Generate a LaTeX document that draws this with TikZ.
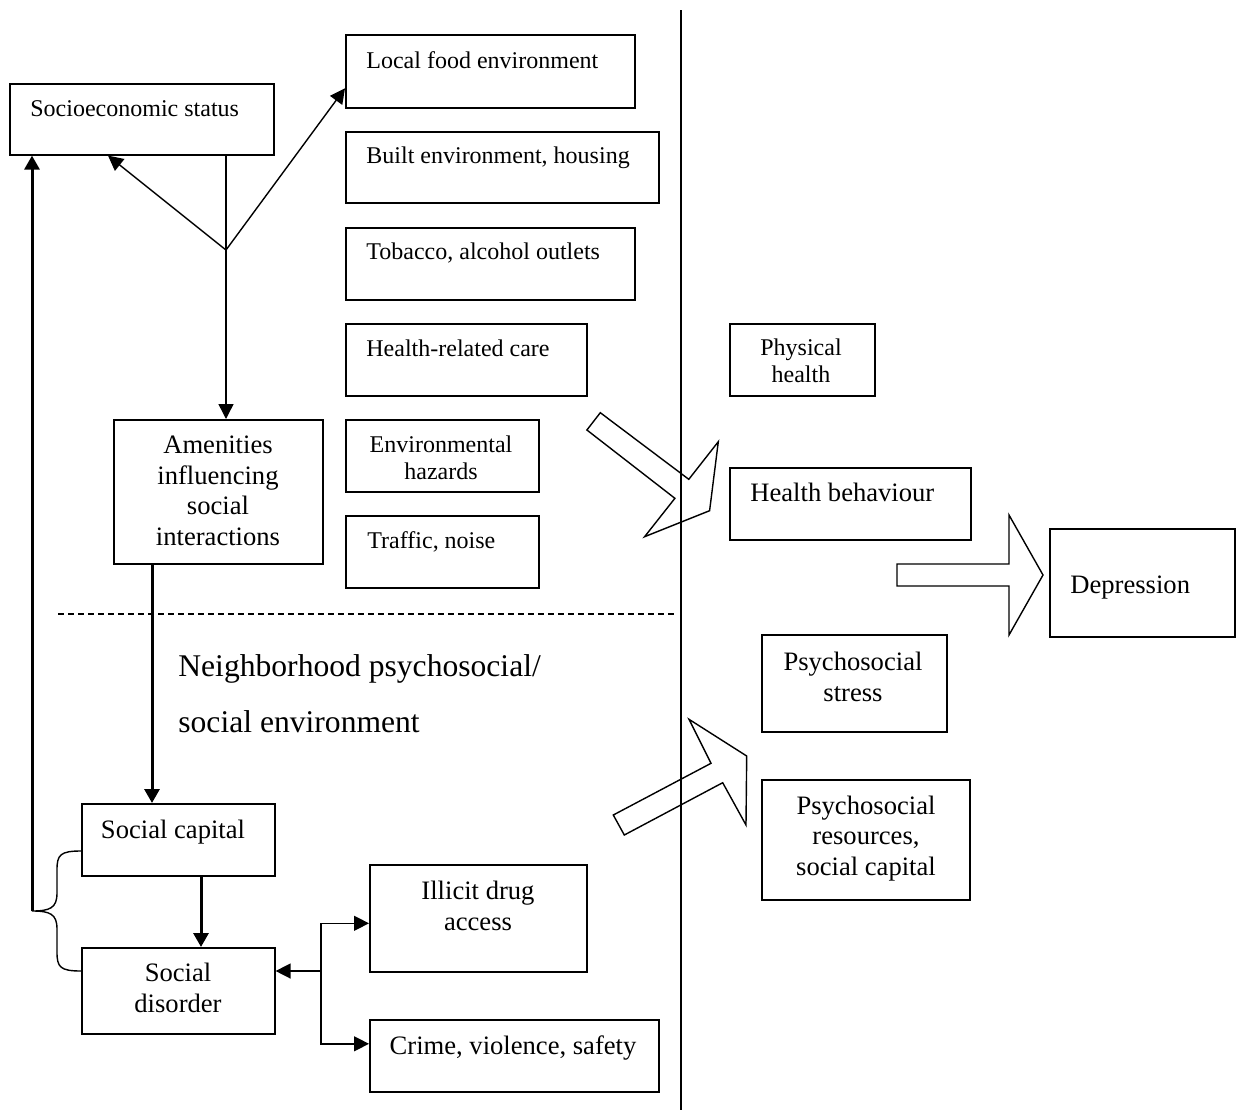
\documentclass[tikz,border=0pt]{standalone}
\usepackage{fontspec}
\setmainfont{Liberation Serif}
\usetikzlibrary{arrows.meta,calc}

\tikzset{
    box/.style={draw,line width=0.8pt,anchor=north west,inner sep=0pt},
    small/.style={font=\fontsize{12}{13.4}\selectfont,inner sep=0pt,align=center},
    large/.style={font=\fontsize{13.3}{15.2}\selectfont,inner sep=0pt,align=center},
    link/.style={line width=0.7pt,-{Triangle[length=7.5pt,width=7.5pt]}},
    thicklink/.style={line width=1.5pt,-{Triangle[length=7pt,width=7.5pt]}},
    block/.style={line width=0.7pt,line join=miter}
}

\begin{document}
\begin{tikzpicture}[x=0.5pt,y=-0.5pt]
    \useasboundingbox (0,0) rectangle (1239,1110);

    \node[box,minimum width=132pt,minimum height=35.5pt] (ses) at (9,83) {};
    \node[box,minimum width=144.5pt,minimum height=36.5pt] (food) at (345,34) {};
    \node[box,minimum width=156.5pt,minimum height=35.5pt] (built) at (345,131) {};
    \node[box,minimum width=144.5pt,minimum height=36pt] (tob) at (345,227) {};
    \node[box,minimum width=120.5pt,minimum height=36pt] (care) at (345,323) {};
    \node[box,minimum width=104.5pt,minimum height=72pt] (amen) at (113,419) {};
    \node[box,minimum width=96.5pt,minimum height=36pt] (haz) at (345,419) {};
    \node[box,minimum width=96.5pt,minimum height=36pt] (traffic) at (345,515) {};
    \node[box,minimum width=96.5pt,minimum height=36pt] (scap) at (81,803) {};
    \node[box,minimum width=96.5pt,minimum height=43pt] (sdis) at (81,947) {};
    \node[box,minimum width=108.5pt,minimum height=53.5pt] (drug) at (369,864) {};
    \node[box,minimum width=144.5pt,minimum height=36pt] (crime) at (369,1019) {};
    \node[box,minimum width=72.5pt,minimum height=36pt] (phys) at (729,323) {};
    \node[box,minimum width=120.5pt,minimum height=36pt] (behav) at (729,467) {};
    \node[box,minimum width=92.5pt,minimum height=54pt] (dep) at (1049,528) {};
    \node[box,minimum width=92.5pt,minimum height=48.5pt] (stress) at (761,634) {};
    \node[box,minimum width=104pt,minimum height=60pt] (res) at (761,779) {};

    \node[small,anchor=base west] (sestxt) at (30,116) {Socioeconomic status};
    \node[small,anchor=base west] (foodtxt) at (366,68) {Local food environment};
    \node[small,anchor=base west] (builttxt) at (366,163) {Built environment, housing};
    \node[small,anchor=base west] (tobtxt) at (366,259) {Tobacco, alcohol outlets};
    \node[small,anchor=base west] (caretxt) at (366,356) {Health-related care};
    \node[small,anchor=base] (haztxt) at (441,479) {Environmental\\hazards};
    \node[small,anchor=base west] (traffictxt) at (367,548) {Traffic, noise};
    \node[large,anchor=base] (amentxt) at (218,545) {Amenities\\influencing\\social\\interactions};
    \node[large,anchor=base] (scaptxt) at (173,838) {Social capital};
    \node[large,anchor=base] (sdistxt) at (178,1012) {Social\\disorder};
    \node[large,anchor=base] (drugtxt) at (478,930) {Illicit drug\\access};
    \node[large,anchor=base] (crimetxt) at (513,1054) {Crime, violence, safety};
    \node[small,anchor=base] (phystxt) at (801,382) {Physical\\health};
    \node[large,anchor=base west] (behavtxt) at (750,501) {Health behaviour};
    \node[large,anchor=base west] (deptxt) at (1070,593) {Depression};
    \node[large,anchor=base] (stresstxt) at (853,701) {Psychosocial\\stress};
    \node[large,anchor=base] (restxt) at (866,875) {Psychosocial\\resources,\\social capital};
    \node[anchor=base west,inner sep=0pt,align=left,font=\fontsize{15.8}{27.8}\selectfont] (hood) at (178,732) {Neighborhood psychosocial/\\social environment};

    \draw[line width=0.7pt] (681,10) -- (681,1110);
    \draw[line width=0.7pt,dash pattern=on 3pt off 2pt] (58,614) -- (674,614);

    \coordinate (fork) at (226,250);
    \draw[line width=0.7pt] (ses.south -| fork) -- (fork);
    \draw[link] (fork) -- (fork |- amen.north);
    \draw[link] (fork) -- (ses.south -| 108,0);
    \draw[link] (fork) -- ($(food.west)+(0,17)$);

    \draw[thicklink] (amen.south -| 152,0) -- (scap.north -| 152,0);
    \draw[thicklink] (scap.south -| 201,0) -- (sdis.north -| 201,0);

    \coordinate (brc) at (32,911);
    \draw[line width=0.7pt] ($(scap.north west)+(0,48)$) .. controls (60,851) and (57,855) .. (57,870) -- (57,893)
        .. controls (57,908) and (50,911) .. (brc) .. controls (50,911) and (57,914) .. (57,929) -- (57,952)
        .. controls (57,967) and (60,971) .. ($(sdis.north west)+(0,24)$);
    \draw[thicklink] (brc) -- (brc |- ses.south);

    \coordinate (jn) at (321,971);
    \draw[link] (jn) -- (jn -| sdis.east);
    \draw[link] (jn) |- ($(drug.west)+(0,5)$);
    \draw[link] (jn) |- ($(crime.west)+(0,-12)$);

    \draw[block] (586.9,430) -- (600.3,412.7) -- (688.8,479.3) -- (718.3,441.7) -- (709.6,510.7)
        -- (644.6,536.7) -- (674.9,498.3) -- cycle;
    \draw[block] (897,564) -- (1009,564) -- (1009,515) -- (1043,575) -- (1009,635) -- (1009,586)
        -- (897,586) -- cycle;
    \draw[block] (613.3,815) -- (711,763.3) -- (689,719.3) -- (746.7,756) -- (746,825)
        -- (722.7,782.7) -- (624.3,835) -- cycle;
\end{tikzpicture}
\end{document}
